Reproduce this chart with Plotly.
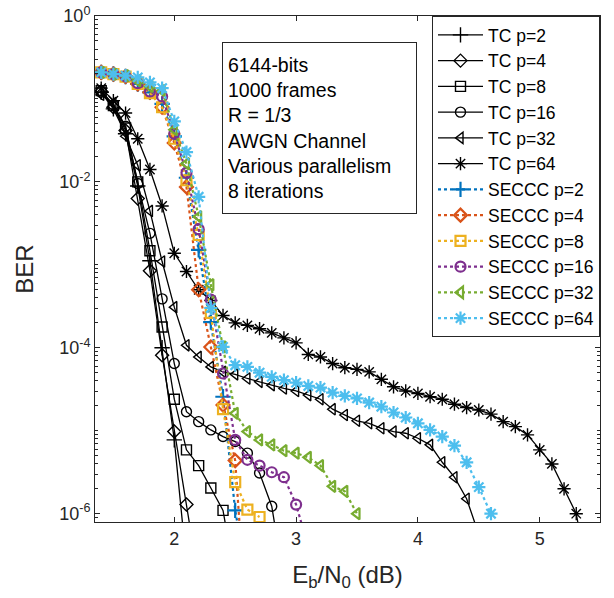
import plotly.graph_objects as go

# Eb/N0 grid (dB) shared by all curves
ebn0 = [1.4, 1.5, 1.6, 1.7, 1.8, 1.9, 2.0, 2.1, 2.2, 2.3, 2.4, 2.5, 2.6, 2.7, 2.8,
        2.9, 3.0, 3.1, 3.2, 3.3, 3.4, 3.5, 3.6, 3.7, 3.8, 3.9, 4.0, 4.1, 4.2, 4.3,
        4.4, 4.5, 4.6, 4.7, 4.8, 4.9, 5.0, 5.1, 5.2, 5.3, 5.4]

# log10(BER)
tc2_log10ber = [-0.92, -1.12, -1.42, -2.05, -2.95, -4.0, -5.11, -6.6]
tc4_log10ber = [-0.91, -1.10, -1.38, -2.20, -3.07, -4.09, -5.01, -5.89, -6.8]
tc8_log10ber = [-0.90, -1.08, -1.35, -2.0, -2.83, -3.75, -4.62, -5.23, -5.42, -5.69, -5.96, -6.8]
tc16_log10ber = [-0.90, -1.07, -1.33, -2.02, -2.62, -3.41, -4.19, -4.77, -4.89, -4.99, -5.07,
                 -5.13, -5.27, -5.51, -5.91, -6.8]
tc32_log10ber = [-0.95, -1.05, -1.45, -1.80, -2.35, -2.96, -3.51, -3.97, -4.11, -4.23, -4.29,
                 -4.32, -4.37, -4.41, -4.45, -4.49, -4.52, -4.57, -4.62, -4.74, -4.81, -4.88,
                 -4.91, -4.97, -5.01, -5.03, -5.09, -5.17, -5.38, -5.56, -5.82, -6.25]
tc64_log10ber = [-0.87, -1.02, -1.17, -1.48, -1.85, -2.29, -2.86, -3.08, -3.30, -3.43, -3.61,
                 -3.70, -3.73, -3.77, -3.82, -3.88, -3.94, -4.08, -4.11, -4.19, -4.24, -4.26,
                 -4.29, -4.38, -4.47, -4.52, -4.55, -4.59, -4.62, -4.68, -4.72, -4.75, -4.80,
                 -4.89, -4.95, -5.05, -5.23, -5.40, -5.70, -6.00, -6.8]

seccc2_log10ber = [-0.68, -0.70, -0.73, -0.82, -0.92, -1.06, -1.45, -1.95, -2.82, -3.69, -4.59,
                   -5.96, -6.8]
seccc4_log10ber = [-0.68, -0.70, -0.73, -0.82, -0.92, -1.10, -1.53, -2.06, -3.30, -3.99, -4.69,
                   -5.36, -7.5]
seccc8_log10ber = [-0.68, -0.70, -0.73, -0.82, -0.93, -1.10, -1.48, -1.98, -2.64, -3.58, -4.74,
                   -5.62, -5.95, -6.04]
seccc16_log10ber = [-0.68, -0.70, -0.73, -0.81, -0.91, -0.97, -1.42, -1.89, -2.57, -3.42, -4.31,
                    -5.11, -5.35, -5.42, -5.50, -5.56, -5.89, -6.4]
seccc32_log10ber = [-0.68, -0.70, -0.72, -0.78, -0.85, -0.90, -1.37, -1.78, -2.42, -3.24, -3.99,
                    -4.79, -5.01, -5.11, -5.17, -5.24, -5.27, -5.32, -5.42, -5.67, -5.73, -6.0]
seccc64_log10ber = [-0.68, -0.70, -0.72, -0.74, -0.80, -0.87, -1.27, -1.64, -2.18, -3.52, -3.99,
                    -4.21, -4.23, -4.30, -4.35, -4.39, -4.42, -4.46, -4.48, -4.54, -4.58, -4.61,
                    -4.66, -4.71, -4.78, -4.84, -4.91, -4.99, -5.07, -5.18, -5.38, -5.68, -6.00]

series_names = ["TC p=2", "TC p=4", "TC p=8", "TC p=16", "TC p=32", "TC p=64",
                "SECCC p=2", "SECCC p=4", "SECCC p=8", "SECCC p=16", "SECCC p=32", "SECCC p=64"]
series_data = [tc2_log10ber, tc4_log10ber, tc8_log10ber, tc16_log10ber, tc32_log10ber, tc64_log10ber,
               seccc2_log10ber, seccc4_log10ber, seccc8_log10ber, seccc16_log10ber,
               seccc32_log10ber, seccc64_log10ber]

symbols = ["cross-thin-open", "diamond-open", "square-open", "circle-open",
           "triangle-left-open", "asterisk-open"]
seccc_colors = ["#0072BD", "#D95319", "#EDB120", "#7E2F8E", "#77AC30", "#4DBEEE"]

FONT = "Liberation Sans, Arial, Helvetica, sans-serif"
fig = go.Figure()
for i, (name, data) in enumerate(zip(series_names, series_data)):
    is_tc = i < 6
    k = i % 6
    color = "#000000" if is_tc else seccc_colors[k]
    sym = symbols[k]
    size = 10 if sym not in ("cross-thin-open", "asterisk-open") else 11
    fig.add_trace(go.Scatter(
        x=ebn0[:len(data)],
        y=[10 ** v for v in data],
        name=name,
        mode="lines+markers",
        line=dict(color=color, width=1.3 if is_tc else 2.2, dash="solid" if is_tc else "dot"),
        marker=dict(symbol=sym, size=size, color=color,
                    line=dict(color=color, width=1.4 if is_tc else 2.2)),
        cliponaxis=True,
    ))

decade_vals = [1, 1e-2, 1e-4, 1e-6]
decade_text = ["10<sup>0</sup>", "10<sup>-2</sup>", "10<sup>-4</sup>", "10<sup>-6</sup>"]
minor_vals = [m * 10 ** e for e in range(-7, 0) for m in range(1, 10) if not (m == 1 and e % 2 == 0)]

axis_color = "#262626"
fig.update_layout(
    width=614, height=598,
    margin=dict(l=95, r=14, t=16, b=76),
    paper_bgcolor="white", plot_bgcolor="white",
    font=dict(family=FONT, size=18, color=axis_color),
    showlegend=True,
    legend=dict(x=1, y=1, xanchor="right", yanchor="top", bgcolor="white",
                bordercolor=axis_color, borderwidth=1,
                font=dict(family=FONT, size=17.5, color="#000000"),
                tracegroupgap=0, itemwidth=45),
    xaxis=dict(range=[1.349, 5.495], tickvals=[2, 3, 4, 5], ticktext=["2", "3", "4", "5"],
               ticks="inside", ticklen=5, tickcolor=axis_color, showline=True, linecolor=axis_color,
               linewidth=1, mirror="ticks", showgrid=False, zeroline=False, automargin=False,
               tickfont=dict(size=18),
               title=dict(text="E<sub>b</sub>/N<sub>0</sub> (dB)", font=dict(size=24), standoff=18)),
    yaxis=dict(type="log", range=[-6.1, 0], tickvals=decade_vals, ticktext=decade_text,
               ticks="inside", ticklen=5, tickcolor=axis_color, showline=True, linecolor=axis_color,
               linewidth=1, mirror="ticks", showgrid=False, zeroline=False, automargin=False,
               tickfont=dict(size=18),
               minor=dict(tickvals=minor_vals, ticks="inside", ticklen=3, tickcolor=axis_color,
                          showgrid=False),
               title=dict(text="BER", font=dict(size=24), standoff=18)),
)

fig.add_annotation(
    xref="paper", yref="paper", x=0.4446, y=0.7785, xanchor="center", yanchor="middle",
    text="6144-bits<br>1000 frames<br>R = 1/3<br>AWGN Channel<br>Various parallelism<br>8 iterations",
    align="left", valign="middle", showarrow=False,
    font=dict(family=FONT, size=19.5, color="#000000"),
    bordercolor=axis_color, borderwidth=1, borderpad=5, bgcolor="white",
    width=183, height=160,
)

fig.write_html("out.html")
